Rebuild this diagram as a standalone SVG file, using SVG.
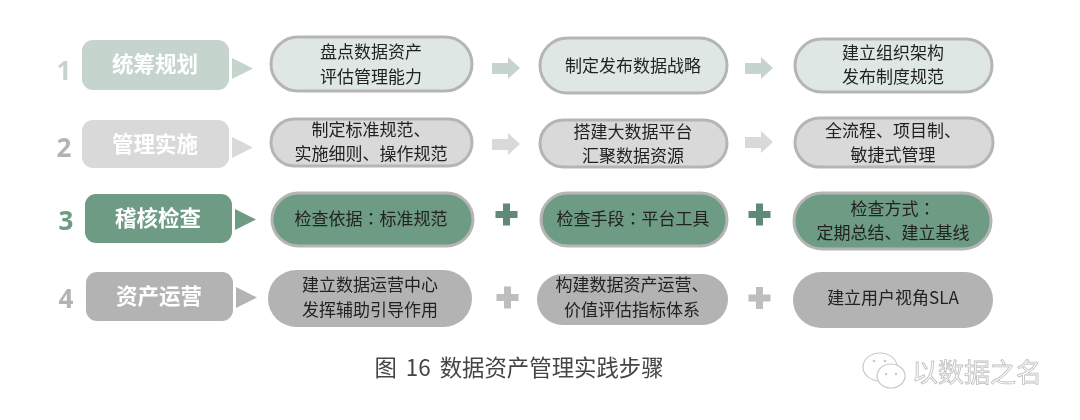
<svg xmlns="http://www.w3.org/2000/svg" width="1080" height="420" viewBox="0 0 1080 420">
<style>
text{font-family:"Noto Sans CJK SC","Noto Sans",sans-serif;text-anchor:middle}
.t{font-size:17px;fill:#222}
.c{font-family:"Noto Sans CJK TC","Noto Sans",sans-serif}
.l{font-size:21.5px;font-weight:700;fill:#fff}
.n{font-size:26px;font-weight:700;font-family:"Open Sans","Noto Sans",sans-serif}
.p{stroke:#b5b5b5;stroke-width:3}
.g1{fill:#c5d5ce}.g2{fill:#d9d9d9}.g3{fill:#6d9b83}.g4{fill:#b3b3b3}
.pf1{fill:#dfe7e4}.pf2{fill:#d9d9d9}.pf3{fill:#6d9b83}
#row1,#row2,#row3,#row4,#connectors,#caption,#watermark{filter:url(#soft)}
</style>
<defs>
<filter id="soft" x="-5%" y="-5%" width="110%" height="110%"><feGaussianBlur stdDeviation="0.45"/></filter>
<path id="arrow" d="M0 6H16V0L28 11L16 22V17H0Z"/>
<path id="plus" d="M-11 -3.5H-3.5V-11H3.5V-3.5H11V3.5H3.5V11H-3.5V3.5H-11Z"/>
<path id="tri" d="M0 0L21 10.5L0 21Z"/>
</defs>
<g id="row1">
<g id="s1"><text class="n g1" x="64" y="80">1</text><rect class="g1" x="82" y="40" width="147" height="50" rx="11"/><text class="l" x="155" y="72">统筹规划</text></g>
<g id="a1"><rect class="p pf1" x="271" y="37" width="201" height="54" rx="27"/><text class="t" x="371" y="58">盘点数据资产</text><text class="t" x="371" y="83">评估管理能力</text></g>
<g id="b1"><rect class="p pf1" x="540" y="38" width="187" height="55" rx="27.5"/><text class="t" x="633" y="72">制定发布数据战略</text></g>
<g id="c1"><rect class="p pf1" x="795" y="39" width="197" height="53" rx="26.5"/><text class="t" x="893" y="59">建立组织架构</text><text class="t" x="893" y="83">发布制度规范</text></g>
</g>
<g id="row2">
<g id="s2"><text class="n g4" x="64" y="157">2</text><rect class="g2" x="82" y="120" width="147" height="48" rx="11"/><text class="l" x="155" y="152">管理实施</text></g>
<g id="a2"><rect class="p pf2" x="271" y="119" width="201" height="47" rx="23.5"/><text class="t" x="371" y="136">制定标准规范、</text><text class="t" x="371" y="160">实施细则、操作规范</text></g>
<g id="b2"><rect class="p pf2" x="540" y="120" width="187" height="47" rx="23.5"/><text class="t" x="633" y="138">搭建大数据平台</text><text class="t" x="633" y="162">汇聚数据资源</text></g>
<g id="c2"><rect class="p pf2" x="795" y="118" width="198" height="49" rx="24.5"/><text class="t" x="893" y="137">全流程、项目制、</text><text class="t" x="893" y="161">敏捷式管理</text></g>
</g>
<g id="row3">
<g id="s3"><text class="n g3" x="66" y="230">3</text><rect class="g3" x="85" y="194" width="147" height="49" rx="11"/><text class="l" x="158" y="226">稽核检查</text></g>
<g id="a3"><rect class="p pf3" x="272" y="193" width="201" height="53" rx="26.5"/><text class="t" x="371" y="225">检查依据<tspan class="c">：</tspan>标准规范</text></g>
<g id="b3"><rect class="p pf3" x="541" y="193" width="186" height="53" rx="26.5"/><text class="t" x="633" y="225">检查手段<tspan class="c">：</tspan>平台工具</text></g>
<g id="c3"><rect class="p pf3" x="794" y="193" width="197" height="56" rx="28"/><text class="t" x="893" y="215">检查方式<tspan class="c">：</tspan></text><text class="t" x="893" y="239">定期总结、建立基线</text></g>
</g>
<g id="row4">
<g id="s4"><text class="n g4" x="66" y="308">4</text><rect class="g4" x="86" y="272" width="147" height="49" rx="11"/><text class="l" x="159" y="304">资产运营</text></g>
<g id="a4"><rect class="g4" x="268" y="270" width="204" height="57" rx="28.5"/><text class="t" x="370" y="291">建立数据运营中心</text><text class="t" x="370" y="316">发挥辅助引导作用</text></g>
<g id="b4"><rect class="g4" x="537" y="274" width="191" height="51" rx="25.5"/><text class="t" x="632" y="291">构建数据资产运营、</text><text class="t" x="632" y="316">价值评估指标体系</text></g>
<g id="c4"><rect class="g4" x="793" y="272" width="200" height="56" rx="28"/><text class="t" x="893" y="304">建立用户视角SLA</text></g>
</g>
<g id="connectors">
<use href="#tri" class="g1" x="232" y="58"/>
<use href="#tri" class="g2" x="232" y="137"/>
<use href="#tri" class="g3" x="235" y="209"/>
<use href="#tri" class="g4" x="236" y="287"/>
<use href="#arrow" class="g1" x="492" y="57"/>
<use href="#arrow" class="g1" x="745" y="57"/>
<use href="#arrow" class="g2" x="492" y="133"/>
<use href="#arrow" class="g2" x="745" y="131"/>
<use href="#plus" x="506.5" y="214.5" fill="#5f8a75"/>
<use href="#plus" x="759.5" y="214.5" fill="#5f8a75"/>
<use href="#plus" x="507.5" y="297.5" class="g4" opacity=".85"/>
<use href="#plus" x="759.5" y="298" class="g4" opacity=".85"/>
</g>
<g id="caption"><text x="519" y="376" style="font-size:22.4px;word-spacing:4px;fill:#444">图 16 数据资产管理实践步骤</text></g>
<g id="watermark">
<ellipse cx="880" cy="367" rx="17" ry="14" fill="#fff" stroke="#c8c8c8" stroke-width="1.2"/>
<ellipse cx="891" cy="376" rx="14" ry="12" fill="#fff" stroke="#c8c8c8" stroke-width="1.2"/>
<circle cx="874" cy="361" r="1.3" fill="#c8c8c8"/><circle cx="885" cy="361" r="1.3" fill="#c8c8c8"/>
<circle cx="886" cy="374" r="1.2" fill="#c8c8c8"/><circle cx="896" cy="374" r="1.2" fill="#c8c8c8"/>
<text x="977" y="382" style="font-size:26px;fill:#fff;stroke:#bdbdbd;stroke-width:.8">以数据之名</text>
</g>
</svg>
